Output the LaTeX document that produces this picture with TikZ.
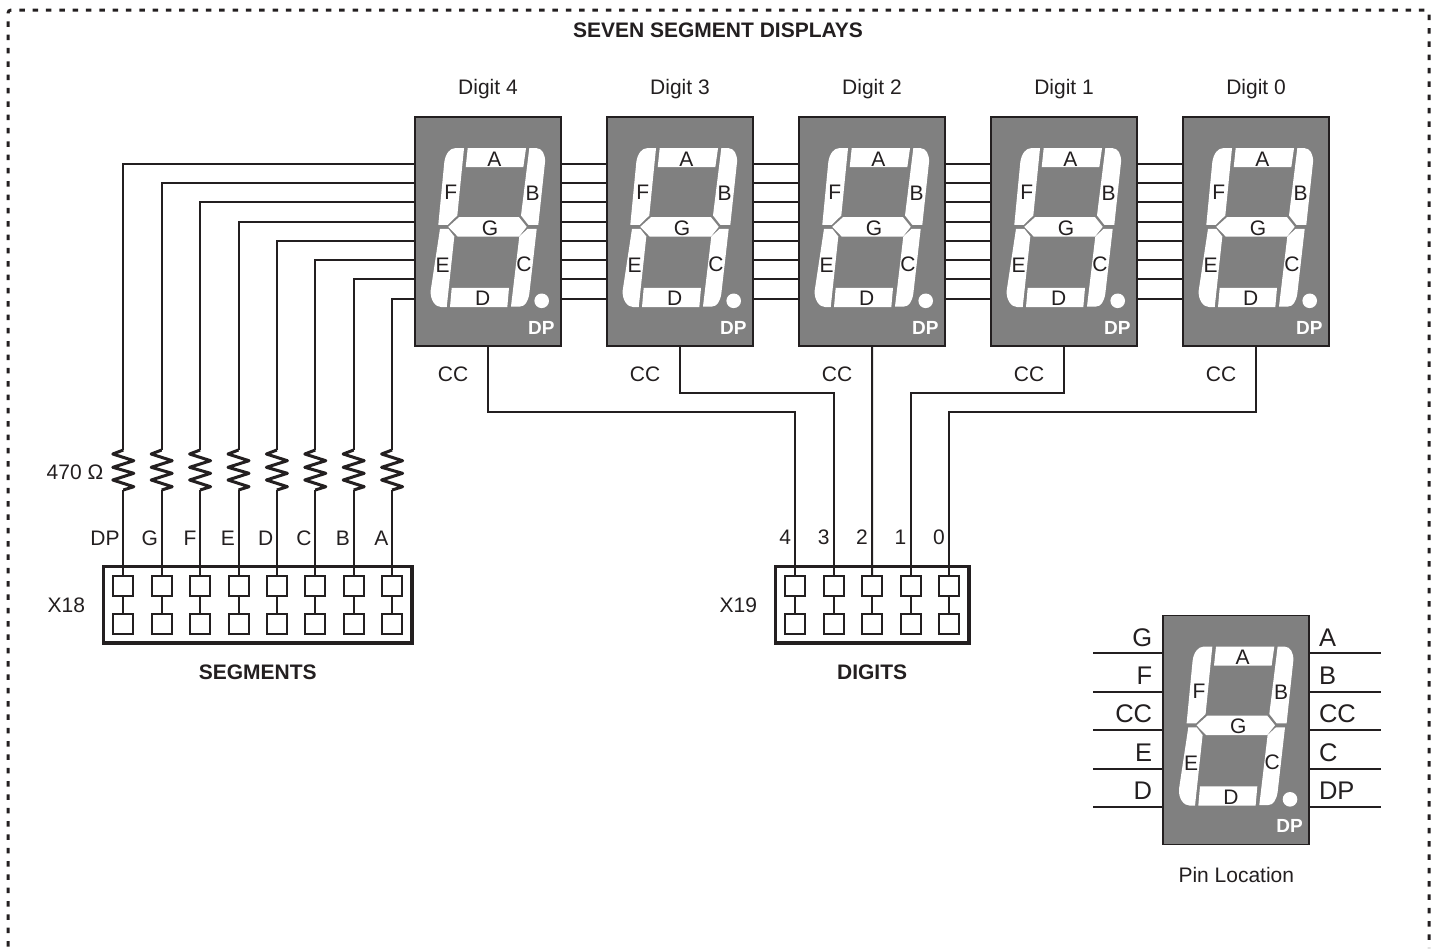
\documentclass[tikz,border=0pt]{standalone}
\usepackage{fontspec}
\setmainfont{Liberation Sans}
\usepackage{tikz}
\usetikzlibrary{calc, positioning, fit}
\definecolor{ink}{HTML}{231F20}
\definecolor{body}{HTML}{808080}

\newcommand{\segdisplay}[1]{
 \begin{scope}[shift={(#1.center)}]
  \fill [white] (-20.3,-83.3) -- (38,-83.3) -- (35.3,-64.3) -- (-22.3,-64.3) -- cycle;
  \fill [white] (41.3,-83.3) -- (48.7,-83.3) .. controls (54,-83.3) and (57.5,-77) .. (57,-69.3) -- (50.3,-6.7) -- (40.3,-6.7) -- (33,-16) -- cycle;
  \fill [white] (39.7,-2.7) -- (48.7,-2.7) -- (41.3,62.3) .. controls (40,70) and (37,75) .. (32,75) -- (23,75) -- (31.3,5) -- cycle;
  \fill [white] (-36.3,56.3) -- (21,56.3) -- (19.3,75.7) -- (-38,75.7) -- cycle;
  \fill [white] (-48,-2.7) -- (-39.7,-2.7) -- (-33.7,5) -- (-41.3,75.7) -- (-46.3,75.7) .. controls (-53,75.7) and (-58,68) .. (-57.3,59) -- cycle;
  \fill [white] (-24,-83.3) -- (-30.7,-16) -- (-40.3,-6.7) -- (-49.7,-6.7) -- (-43.7,-69.3) .. controls (-42.5,-78) and (-38,-83.3) .. (-33,-83.3) -- cycle;
  \fill [white] (-39.7,-4.7) -- (-29,-14.3) -- (31,-14.3) -- (38.7,-4.7) -- (31,5) -- (-30.3,5) -- cycle;
  \fill [white] (53.7,69.3) circle (7.3);
  \node [txt] (#1-A) at (6.3,-72.7) {A};
  \node [txt] (#1-B) at (44.7,-38.3) {B};
  \node [txt] (#1-C) at (36,32.3) {C};
  \node [txt] (#1-D) at (-5.3,66.7) {D};
  \node [txt] (#1-E) at (-45.3,33.3) {E};
  \node [txt] (#1-F) at (-37.3,-39.3) {F};
  \node [txt] (#1-G) at (2,-3.7) {G};
  \node [txt, text=white, font=\fontsize{19}{22}\selectfont\bfseries, text height=13.6pt] (#1-DP) at (53.3,95.7) {DP};
  \foreach \i in {1,...,8} {
   \coordinate (#1-l\i) at (-73,-67.7+19.25*\i-19.25);
   \coordinate (#1-r\i) at (73,-67.7+19.25*\i-19.25);
  }
 \end{scope}
}

\begin{document}
\begin{tikzpicture}[x=1pt, y=-1pt, font=\fontsize{21}{25}\selectfont, node distance = 46pt]
 \tikzstyle{every node} = [text=ink]
 \tikzstyle{txt}  = [inner sep=0pt, text height=15pt, text depth=0pt]
 \tikzstyle{big}  = [txt, font=\fontsize{25.5}{30}\selectfont, text height=18.3pt]
 \tikzstyle{bold} = [txt, font=\fontsize{21}{25}\selectfont\bfseries]
 \tikzstyle{disp} = [draw=ink, fill=body, line width=1.8pt, rectangle, outer sep=0pt, minimum width=146pt, minimum height=229pt]
 \tikzstyle{pin}  = [draw=ink, line width=2pt, rectangle, outer sep=0pt, inner sep=0pt, minimum width=20pt, minimum height=20pt, node distance=18.4pt]
 \tikzstyle{hdr}  = [draw=ink, line width=3.4pt, rectangle, outer sep=0pt, inner xsep=10pt, inner ysep=9pt]
 \tikzstyle{wire} = [draw=ink, line width=2pt]
 \tikzstyle{res}  = [draw=ink, line width=3pt, line join=round]

 \useasboundingbox (0,0) rectangle (1435,948);

 \draw [ink, line width=3pt, rounded corners=3pt, dash pattern=on 5.5pt off 7.83pt, dash phase=11.88pt] (8,948) -- (8,10) -- (1429,10) -- (1429,948);

 \node [bold] (title) at (718,30) {SEVEN SEGMENT DISPLAYS};

 \node [disp] (D4) at (488,231.5) {};
 \node [disp, right = of D4] (D3) {};
 \node [disp, right = of D3] (D2) {};
 \node [disp, right = of D2] (D1) {};
 \node [disp, right = of D1] (D0) {};
 \node [disp] (P) at (1236.3,730) {};

 \foreach \d in {D4,D3,D2,D1,D0,P} {\segdisplay{\d}}

 \foreach \d/\t in {D4/4,D3/3,D2/2,D1/1,D0/0} {
  \node [txt] (name\d) at ($(\d.north)+(0,-30)$) {Digit \t};
  \node [txt] (cc\d) at ($(\d.south)+(-35,28)$) {CC};
 }

 \foreach \a/\b in {D4/D3,D3/D2,D2/D1,D1/D0} {
  \foreach \i in {1,...,8} {
   \draw [wire] (\a-r\i) -- (\b-l\i);
  }
 }

 \node [pin] (aDP) at (123.3,585.7) {};
 \node [pin, right = of aDP] (aG) {};
 \node [pin, right = of aG]  (aF) {};
 \node [pin, right = of aF]  (aE) {};
 \node [pin, right = of aE]  (aD) {};
 \node [pin, right = of aD]  (aC) {};
 \node [pin, right = of aC]  (aB) {};
 \node [pin, right = of aB]  (aA) {};
 \node [pin, below = of aDP] (bDP) {};
 \node [pin, below = of aG]  (bG) {};
 \node [pin, below = of aF]  (bF) {};
 \node [pin, below = of aE]  (bE) {};
 \node [pin, below = of aD]  (bD) {};
 \node [pin, below = of aC]  (bC) {};
 \node [pin, below = of aB]  (bB) {};
 \node [pin, below = of aA]  (bA) {};
 \node [hdr, fit = (aDP)(bA)] (X18) {};

 \node [pin] (a4) at (795.3,585.7) {};
 \node [pin, right = of a4] (a3) {};
 \node [pin, right = of a3] (a2) {};
 \node [pin, right = of a2] (a1) {};
 \node [pin, right = of a1] (a0) {};
 \node [pin, below = of a4] (b4) {};
 \node [pin, below = of a3] (b3) {};
 \node [pin, below = of a2] (b2) {};
 \node [pin, below = of a1] (b1) {};
 \node [pin, below = of a0] (b0) {};
 \node [hdr, fit = (a4)(b0)] (X19) {};

 \node [txt] (labX18) at ($(X18.west)+(-37,0)$) {X18};
 \node [txt] (labX19) at ($(X19.west)+(-37,0)$) {X19};
 \node [bold] (labseg) at ($(X18.south)+(0,28.5)$) {SEGMENTS};
 \node [bold] (labdig) at ($(X19.south)+(0,28.5)$) {DIGITS};
 \node [txt] (labres) at (75,472) {470 Ω};

 \foreach \p/\i in {DP/1,G/2,F/3,E/4,D/5,C/6,B/7,A/8} {
  \coordinate (rb\p) at ($(a\p.north)+(0,-85.7)$);
  \coordinate (rt\p) at ($(a\p.north)+(0,-125.7)$);
  \draw [wire] (b\p) -- (a\p);
  \draw [wire] (a\p.north) -- (rb\p);
  \draw [wire] (rt\p) |- (D4-l\i);
  \draw [res] (rt\p) -- ++(-10.5,4) -- ++(21,6.7) -- ++(-21,6.6) -- ++(21,6) -- ++(-21,6.7) -- ++(21,6.7) -- (rb\p);
  \node [txt, anchor=east] (lab\p) at ($(a\p.north)+(-3.5,-38)$) {\p};
 }

 \foreach \p in {4,3,2,1,0} {
  \draw [wire] (b\p) -- (a\p);
  \node [txt, anchor=east] (lab\p) at ($(a\p.north)+(-4,-38.5)$) {\p};
 }

 \draw [wire] (D4.south) -- ++(0,66) -| (a4.north);
 \draw [wire] (D3.south) -- ++(0,47) -| (a3.north);
 \draw [wire] (D2.south) -- (a2.north);
 \draw [wire] (D1.south) -- ++(0,47) -| (a1.north);
 \draw [wire] (D0.south) -- ++(0,66) -| (a0.north);

 \foreach \i/\tl/\tr in {0/G/A,1/F/B,2/CC/CC,3/E/C,4/D/DP} {
  \coordinate (leadL\i) at ($(P.west)+(-70.3,-76.7+38.4*\i)$);
  \coordinate (leadR\i) at ($(P.east)+(71.4,-76.7+38.4*\i)$);
  \draw [wire] (leadL\i) -- (leadL\i -| P.west);
  \draw [wire] (leadR\i) -- (leadR\i -| P.east);
  \node [big, anchor=east] (pinL\i) at ($(P.west)+(-11,-93+38.4*\i)$) {\tl};
  \node [big, anchor=west] (pinR\i) at ($(P.east)+(9.5,-93+38.4*\i)$) {\tr};
 }
 \node [txt] (labP) at ($(P.south)+(0,30)$) {Pin Location};
\end{tikzpicture}
\end{document}
